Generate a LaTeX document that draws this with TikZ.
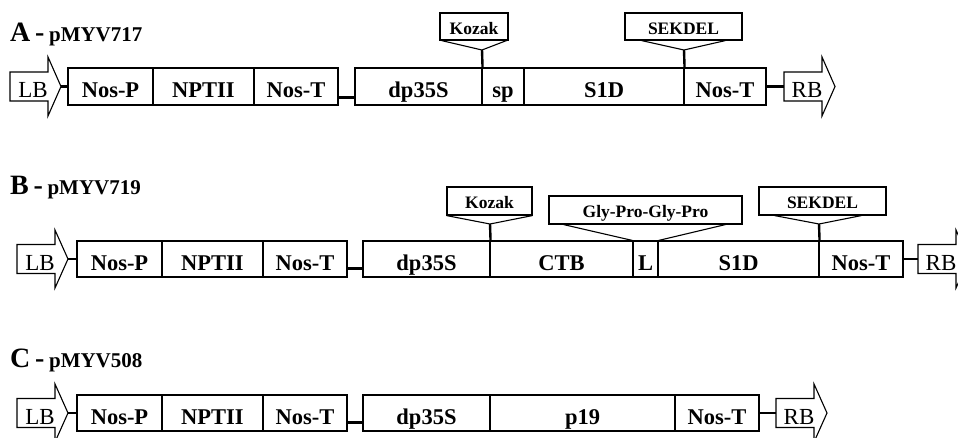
\documentclass[tikz,border=0pt]{standalone}
\usepackage{fontspec}
\setmainfont{Liberation Serif}
\begin{document}
\begin{tikzpicture}[x=1pt,y=-1pt,
  gbox/.style={draw, line width=1.1pt, inner sep=0pt, font=\fontsize{22.5}{22.5}\selectfont\bfseries, text height=22pt, text depth=0pt},
  hA/.style={minimum height=37pt},
  hB/.style={minimum height=36pt},
  cbox/.style={draw, line width=1.1pt, inner sep=0pt, font=\fontsize{17.5}{17.5}\selectfont\bfseries, text height=15.5pt, text depth=0pt},
  cline/.style={line width=1.1pt},
  conn/.style={line width=2.4pt},
  arrshape/.style={draw, line width=1.1pt, line join=miter},
  arrtext/.style={inner sep=0pt, font=\fontsize{23}{23}\selectfont, text height=22pt, text depth=0pt},
  ttl/.style={inner sep=0pt, anchor=base west}
]
\clip (0,0) rectangle (958,437);
\fill[white] (0,0) rectangle (958,437);

% ---------------- Row A ----------------
\node[ttl] (tA) at (10,41) {\bfseries\fontsize{28}{28}\selectfont A\,-\,\fontsize{21}{21}\selectfont pMYV717};
\draw[arrshape] (10,72) -- (48,72) -- (48,57) -- (61,86.5) -- (48,116) -- (48,101) -- (10,101) -- cycle;
\coordinate (lbtipA) at (61,86.5);
\node[arrtext] (lbA) at (33,86.5) {LB};
\node[gbox,hA,minimum width=85pt] (nospA) at (110.5,86.5) {Nos-P};
\node[gbox,hA,minimum width=101pt] (nptA) at (203.5,86.5) {NPTII};
\node[gbox,hA,minimum width=84pt] (nostA) at (296,86.5) {Nos-T};
\node[gbox,hA,minimum width=127pt] (dpA) at (418.5,86.5) {dp35S};
\node[gbox,hA,minimum width=42pt] (spA) at (503,86.5) {sp};
\node[gbox,hA,minimum width=160pt] (s1dA) at (604,86.5) {S1D};
\node[gbox,hA,minimum width=82pt] (nostbA) at (725,86.5) {Nos-T};
\draw[arrshape] (784,72) -- (822,72) -- (822,57) -- (835,86.5) -- (822,116) -- (822,101) -- (784,101) -- cycle;
\coordinate (rbtailA) at (784,86.5);
\node[arrtext] (rbA) at (807,86.5) {RB};
\draw[conn] (lbtipA) -- (nospA.west);
\draw[conn] ([yshift=8pt]nostA.south east) -- ([yshift=8pt]dpA.south west);
\draw[conn] (nostbA.east) -- (rbtailA);
% callouts A
\node[cbox,minimum width=68pt,minimum height=27pt] (kozA) at (474,26.5) {Kozak};
\coordinate (kozpA) at (482,50);
\draw[cline] ([xshift=2pt]kozA.south west) -- (kozpA) -- ([xshift=-2pt]kozA.south east);
\draw[conn] (kozpA) -- (dpA.north east);
\node[cbox,minimum width=117pt,minimum height=27pt] (sekA) at (683.5,26.5) {SEKDEL};
\coordinate (sekpA) at (684,50);
\draw[cline] ([xshift=17pt]sekA.south west) -- (sekpA) -- ([xshift=-17pt]sekA.south east);
\draw[conn] (sekpA) -- (s1dA.north east);

% ---------------- Row B ----------------
\node[ttl] (tB) at (10,194) {\bfseries\fontsize{28}{28}\selectfont B\,-\,\fontsize{21}{21}\selectfont pMYV719};
\draw[arrshape] (17,244.5) -- (55,244.5) -- (55,230) -- (68,259) -- (55,288) -- (55,273.5) -- (17,273.5) -- cycle;
\coordinate (lbtipB) at (68,259);
\node[arrtext] (lbB) at (40,259) {LB};
\node[gbox,hB,minimum width=85pt] (nospB) at (119.5,259) {Nos-P};
\node[gbox,hB,minimum width=101pt] (nptB) at (212.5,259) {NPTII};
\node[gbox,hB,minimum width=84pt] (nostB) at (305,259) {Nos-T};
\node[gbox,hB,minimum width=127pt] (dpB) at (426.5,259) {dp35S};
\node[gbox,hB,minimum width=143pt] (ctbB) at (561.5,259) {CTB};
\node[gbox,hB,minimum width=25pt] (lB) at (645.5,259) {L};
\node[gbox,hB,minimum width=161pt] (s1dB) at (738.5,259) {S1D};
\node[gbox,hB,minimum width=84pt] (nostbB) at (861,259) {Nos-T};
\draw[arrshape] (918,244.5) -- (956,244.5) -- (956,230) -- (969,259) -- (956,288) -- (956,273.5) -- (918,273.5) -- cycle;
\coordinate (rbtailB) at (918,259);
\node[arrtext] (rbB) at (941,259) {RB};
\draw[conn] (lbtipB) -- (nospB.west);
\draw[conn] ([yshift=9pt]nostB.south east) -- ([yshift=9pt]dpB.south west);
\draw[conn] (nostbB.east) -- (rbtailB);
% callouts B
\node[cbox,minimum width=85pt,minimum height=28pt] (kozB) at (489.5,201) {Kozak};
\coordinate (kozpB) at (490,224);
\draw[cline] (kozB.south west) -- (kozpB) -- (kozB.south east);
\draw[conn] (kozpB) -- (dpB.north east);
\node[cbox,minimum width=193pt,minimum height=28pt] (glyB) at (645.5,210) {Gly-Pro-Gly-Pro};
\draw[cline] ([xshift=15pt]glyB.south west) -- (lB.north west);
\draw[cline] ([xshift=-17pt]glyB.south east) -- (lB.north east);
\node[cbox,minimum width=127pt,minimum height=28pt] (sekB) at (822.5,201) {SEKDEL};
\coordinate (sekpB) at (819,224);
\draw[cline] ([xshift=16pt]sekB.south west) -- (sekpB) -- ([xshift=-25pt]sekB.south east);
\draw[conn] (sekpB) -- (s1dB.north east);

% ---------------- Row C ----------------
\node[ttl] (tC) at (10,367) {\bfseries\fontsize{28}{28}\selectfont C\,-\,\fontsize{21}{21}\selectfont pMYV508};
\draw[arrshape] (17,398.5) -- (55,398.5) -- (55,384) -- (68,413) -- (55,442) -- (55,427.5) -- (17,427.5) -- cycle;
\coordinate (lbtipC) at (68,413);
\node[arrtext] (lbC) at (40,413) {LB};
\node[gbox,hB,minimum width=85pt] (nospC) at (119.5,413) {Nos-P};
\node[gbox,hB,minimum width=101pt] (nptC) at (212.5,413) {NPTII};
\node[gbox,hB,minimum width=84pt] (nostC) at (305,413) {Nos-T};
\node[gbox,hB,minimum width=127pt] (dpC) at (426.5,413) {dp35S};
\node[gbox,hB,minimum width=185pt] (p19C) at (582.5,413) {p19};
\node[gbox,hB,minimum width=84pt] (nostbC) at (717,413) {Nos-T};
\draw[arrshape] (776,398.5) -- (814,398.5) -- (814,384) -- (827,413) -- (814,442) -- (814,427.5) -- (776,427.5) -- cycle;
\coordinate (rbtailC) at (776,413);
\node[arrtext] (rbC) at (799,413) {RB};
\draw[conn] (lbtipC) -- (nospC.west);
\draw[conn] ([yshift=9pt]nostC.south east) -- ([yshift=9pt]dpC.south west);
\draw[conn] (nostbC.east) -- (rbtailC);
\end{tikzpicture}
\end{document}
